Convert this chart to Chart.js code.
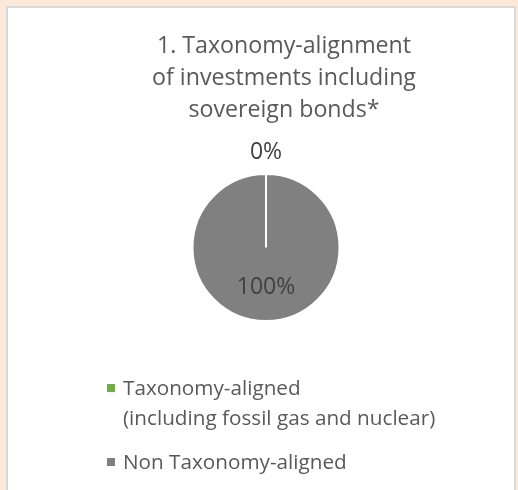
<!DOCTYPE html>
<html>
<head>
<meta charset="utf-8">
<script src="https://cdn.jsdelivr.net/npm/chart.js@4/dist/chart.umd.min.js"></script>
<style>
  html, body { margin: 0; padding: 0; }
  body { width: 518px; height: 490px; background: #fce9d9; position: relative; overflow: hidden; }
  .panel {
    position: absolute; left: 6px; top: 6px; width: 506px; height: 500px;
    background: #fff; border: 2px solid #d9d9d9;
  }
  #chart { position: absolute; left: 0; top: 0; }
  .title { position: absolute; left: 184px; width: 200px; top: 28px; text-align: center;
    white-space: nowrap; display: flex; flex-direction: column; align-items: center;
    font-family: "Open Sans", sans-serif; font-size: 23.2px; line-height: 32px; color: #595959; }
  .legend { position: absolute; left: 104px; top: 372px; margin: 0; padding: 0; list-style: none;
    font-family: "Open Sans", sans-serif; font-size: 20.7px; color: #595959; }
  .legend li { position: relative; padding-left: 19px; line-height: 30px; margin-bottom: 14px; }
  .legend .box { position: absolute; left: 3px; top: 12px; width: 8px; height: 8px; }
</style>
</head>
<body>
<div class="panel"></div>
<canvas id="chart" width="518" height="490"></canvas>
<div class="title" id="title"></div>
<ul class="legend" id="legend"></ul>
<script>
// ─── Data ───────────────────────────────────────────────────────────────
const titleLines = ["1. Taxonomy-alignment", "of investments including", "sovereign bonds*"];
const categories = [
  ["Taxonomy-aligned", "(including fossil gas and nuclear)"],
  ["Non Taxonomy-aligned"],
];
const shares = [0, 100];
const sliceColors = ["#70ad47", "#808080"];

// ─── Slice value labels (Excel-style best fit) ──────────────────────────
const sliceLabels = {
  id: "sliceLabels",
  afterDatasetsDraw(chart) {
    const { ctx } = chart;
    const arcs = chart.getDatasetMeta(0).data;
    ctx.save();
    ctx.font = "23px 'Open Sans', sans-serif";
    ctx.fillStyle = "#404040";
    ctx.textAlign = "center";
    ctx.textBaseline = "middle";
    arcs.forEach((arc, i) => {
      const { x, y, startAngle, endAngle, outerRadius } = arc.getProps(
        ["x", "y", "startAngle", "endAngle", "outerRadius"], true);
      const mid = (startAngle + endAngle) / 2;
      // empty slice sits outside the rim, full slice inside
      const r = shares[i] === 0 ? outerRadius + 22 : outerRadius * 0.55;
      ctx.fillText(shares[i] + "%", x + Math.cos(mid) * r, y + Math.sin(mid) * r);
    });
    ctx.restore();
  },
};

const chart = new Chart(document.getElementById("chart"), {
  type: "pie",
  data: {
    labels: categories,
    datasets: [{
      data: shares,
      backgroundColor: sliceColors,
      borderColor: "#ffffff",
      borderWidth: 2,
    }],
  },
  plugins: [sliceLabels],
  options: {
    responsive: false,
    animation: false,
    layout: { padding: { left: 14, right: 0, top: 173, bottom: 168 } },
    plugins: {
      legend: { display: false },
      tooltip: { enabled: false },
      title: { display: false },
    },
  },
});

// ─── HTML title and legend ──────────────────────────────────────────────
document.getElementById("title").innerHTML = titleLines
  .map((line) => `<span>${line}</span>`)
  .join("");

document.getElementById("legend").innerHTML = categories
  .map((lines, i) =>
    `<li><span class="box" style="background:${sliceColors[i]}"></span>${lines.join("<br>")}</li>`
  )
  .join("");
</script>
</body>
</html>
